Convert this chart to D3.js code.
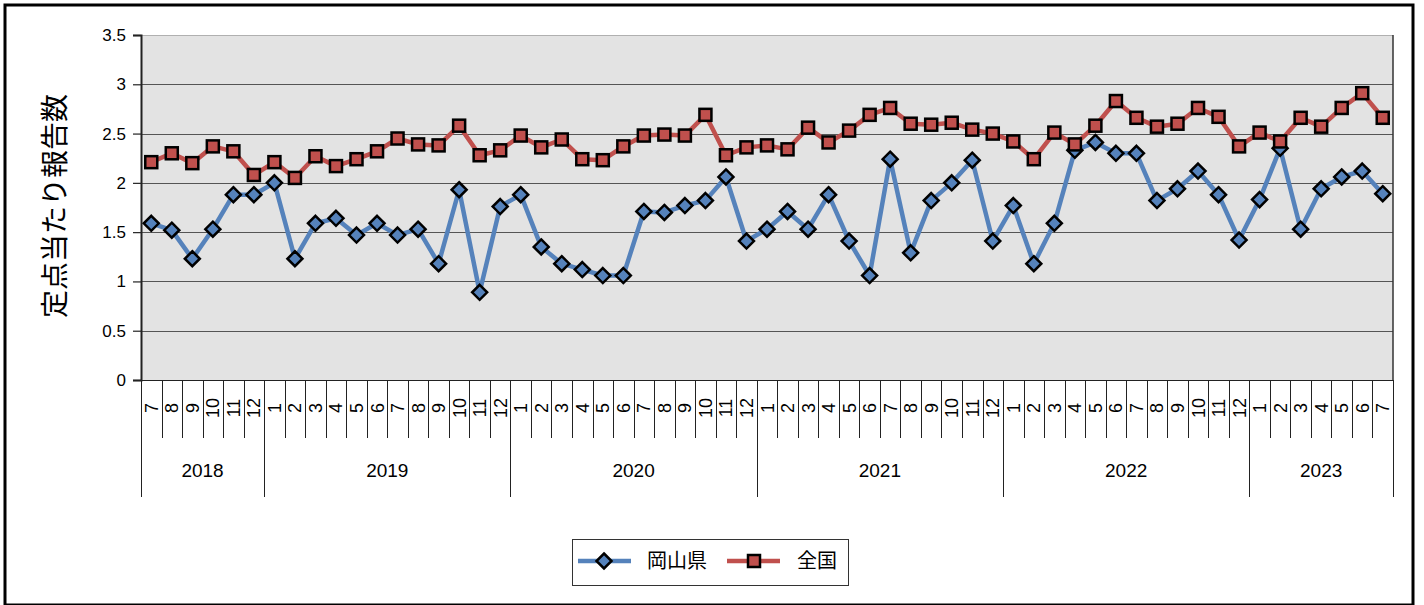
<!DOCTYPE html>
<html><head><meta charset="utf-8">
<script src="https://cdn.jsdelivr.net/npm/d3@7"></script>
<style>html,body{margin:0;padding:0;background:#fff;}svg{display:block;}</style>
</head><body>
<svg id="c" width="1424" height="605"></svg>
<script>
// ---- data ----
const years = ["2018","2019","2020","2021","2022","2023"];
const yearMonths = [
  ["7","8","9","10","11","12"],
  ["1","2","3","4","5","6","7","8","9","10","11","12"],
  ["1","2","3","4","5","6","7","8","9","10","11","12"],
  ["1","2","3","4","5","6","7","8","9","10","11","12"],
  ["1","2","3","4","5","6","7","8","9","10","11","12"],
  ["1","2","3","4","5","6","7"]
];
const okayama = [
  1.59,1.52,1.23,1.53,1.88,1.88,
  2.00,1.23,1.59,1.64,1.47,1.59,1.47,1.53,1.18,1.93,0.89,1.76,
  1.88,1.35,1.18,1.12,1.06,1.06,1.71,1.70,1.77,1.82,2.06,1.41,
  1.53,1.71,1.53,1.88,1.41,1.06,2.24,1.29,1.82,2.00,2.23,1.41,
  1.77,1.18,1.59,2.33,2.41,2.30,2.30,1.82,1.94,2.12,1.88,1.42,
  1.83,2.35,1.53,1.94,2.06,2.12,1.89
];
const zenkoku = [
  2.21,2.30,2.20,2.37,2.32,2.08,
  2.21,2.05,2.27,2.17,2.24,2.32,2.45,2.39,2.38,2.58,2.28,2.33,
  2.48,2.36,2.44,2.24,2.23,2.37,2.48,2.49,2.48,2.69,2.28,2.36,
  2.38,2.34,2.56,2.41,2.53,2.69,2.76,2.60,2.59,2.61,2.54,2.50,
  2.42,2.24,2.51,2.39,2.58,2.83,2.66,2.57,2.60,2.76,2.67,2.37,
  2.51,2.42,2.66,2.57,2.76,2.91,2.66
];
const yTicks = [0,0.5,1,1.5,2,2.5,3,3.5];
const seriesNames = ["岡山県","全国"];
const yTitle = "定点当たり報告数";

// ---- build categories ----
const cats = [];
years.forEach((y,i)=>yearMonths[i].forEach(m=>cats.push({key:y+"-"+m, year:y, month:m})));

const svg = d3.select("#c");
const L = 141, R = 1393, T = 35, B = 380;
const x = d3.scaleBand().domain(cats.map(d=>d.key)).range([L,R]).padding(0);
const y = d3.scaleLinear().domain([0,3.5]).range([B,T]);
const cx = k => x(k) + x.bandwidth()/2;

const blue = "#5582bb", red = "#c0504d";
const fontLatin = "'Liberation Sans', Arial, sans-serif";
const fontJP = "'Noto Sans CJK JP', sans-serif";

// outer frame
svg.append("rect").attr("x",5).attr("y",5).attr("width",1408).attr("height",600)
  .attr("fill","#fff").attr("stroke","#000").attr("stroke-width",3);

// plot background
svg.append("rect").attr("x",L).attr("y",T).attr("width",R-L).attr("height",B-T)
  .attr("fill","#e3e3e3");

// gridlines
svg.append("g").selectAll("line").data(yTicks.filter(v=>v>0)).join("line")
  .attr("x1",L).attr("x2",R).attr("y1",d=>Math.round(y(d))+0.5).attr("y2",d=>Math.round(y(d))+0.5)
  .attr("stroke",d=>d===3.5?"#b0b0b0":"#555").attr("stroke-width",1.2);

// right border
svg.append("line").attr("x1",R).attr("x2",R).attr("y1",T).attr("y2",B).attr("stroke","#333").attr("stroke-width",1.5);

// y axis
const yAxis = d3.axisLeft(y).tickValues(yTicks).tickSize(8).tickPadding(7)
  .tickFormat(d=>String(d));
const gy = svg.append("g").attr("transform",`translate(${L},0)`).call(yAxis);
gy.select(".domain").attr("stroke","#222").attr("stroke-width",2);
gy.selectAll(".tick line").attr("stroke","#222").attr("stroke-width",1.2);
gy.selectAll(".tick text").attr("font-family",fontLatin).attr("font-size",17).attr("fill","#000");

// x axis line
svg.append("line").attr("x1",L-8).attr("x2",R).attr("y1",B+0.5).attr("y2",B+0.5).attr("stroke","#222").attr("stroke-width",1.2);

// month cell separators
const boundaries = cats.map(d=>x(d.key)).concat([R]);
const yearStartIdx = [];
let acc = 0;
yearMonths.forEach(ms=>{yearStartIdx.push(acc); acc += ms.length;});
yearStartIdx.push(acc);
svg.append("g").selectAll("line").data(boundaries.map((b,i)=>({b,i}))).join("line")
  .attr("x1",d=>Math.round(d.b)+0.5).attr("x2",d=>Math.round(d.b)+0.5)
  .attr("y1",B)
  .attr("y2",d=>yearStartIdx.includes(d.i)?497:438)
  .attr("stroke","#222").attr("stroke-width",1);

// month labels
svg.append("g").selectAll("text").data(cats).join("text")
  .attr("transform",d=>`translate(${cx(d.key)+6.5},408) rotate(-90)`)
  .attr("text-anchor","middle")
  .attr("font-family",fontLatin).attr("font-size",18).attr("fill","#000")
  .text(d=>d.month);

// year labels
svg.append("g").selectAll("text").data(years).join("text")
  .attr("x",(d,i)=>(x(cats[yearStartIdx[i]].key) + (yearStartIdx[i+1]<cats.length? x(cats[yearStartIdx[i+1]].key) : R))/2)
  .attr("y",477)
  .attr("text-anchor","middle")
  .attr("font-family",fontLatin).attr("font-size",19).attr("fill","#000")
  .text(d=>d);

// y title
svg.append("text").attr("transform","translate(65,206) rotate(-90)")
  .attr("text-anchor","middle").attr("font-family",fontJP).attr("font-size",28).attr("fill","#000")
  .text(yTitle);

// lines
const line = d3.line().x((d,i)=>cx(cats[i].key)).y(d=>y(d));
svg.append("path").datum(okayama).attr("d",line).attr("fill","none").attr("stroke",blue).attr("stroke-width",4.5).attr("stroke-linejoin","round");
svg.append("path").datum(zenkoku).attr("d",line).attr("fill","none").attr("stroke",red).attr("stroke-width",4.5).attr("stroke-linejoin","round");

// markers
const diamond = (s)=>`M0,${-s}L${s},0L0,${s}L${-s},0Z`;
svg.append("g").selectAll("path").data(okayama).join("path")
  .attr("transform",(d,i)=>`translate(${cx(cats[i].key)},${y(d)})`)
  .attr("d",diamond(7.5)).attr("fill",blue).attr("stroke","#000").attr("stroke-width",2.5);
svg.append("g").selectAll("rect").data(zenkoku).join("rect")
  .attr("x",(d,i)=>cx(cats[i].key)-6).attr("y",d=>y(d)-6)
  .attr("width",12).attr("height",12).attr("fill",red).attr("stroke","#000").attr("stroke-width",2.5);

// legend
const lg = svg.append("g");
lg.append("rect").attr("x",572.5).attr("y",539.5).attr("width",276).attr("height",46)
  .attr("fill","#fff").attr("stroke","#333").attr("stroke-width",1);
const ly = 561;
lg.append("line").attr("x1",578).attr("x2",631).attr("y1",ly).attr("y2",ly).attr("stroke",blue).attr("stroke-width",4.5);
lg.append("path").attr("transform",`translate(604,${ly})`).attr("d",diamond(7.5)).attr("fill",blue).attr("stroke","#000").attr("stroke-width",2.5);
lg.append("text").attr("x",647).attr("y",ly+7).attr("font-family",fontJP).attr("font-size",20).attr("fill","#000").text(seriesNames[0]);
lg.append("line").attr("x1",727).attr("x2",780).attr("y1",ly).attr("y2",ly).attr("stroke",red).attr("stroke-width",4.5);
lg.append("rect").attr("x",748).attr("y",ly-6).attr("width",12).attr("height",12).attr("fill",red).attr("stroke","#000").attr("stroke-width",2.5);
lg.append("text").attr("x",797).attr("y",ly+7).attr("font-family",fontJP).attr("font-size",20).attr("fill","#000").text(seriesNames[1]);
</script>
</body></html>
